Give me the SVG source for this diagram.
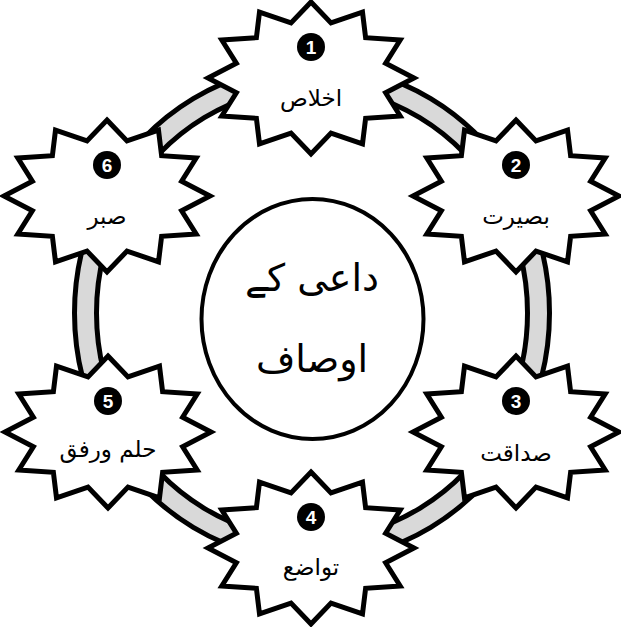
<svg xmlns="http://www.w3.org/2000/svg" xmlns:xlink="http://www.w3.org/1999/xlink" width="621" height="627" viewBox="0 0 621 627">
<style>
.band{fill:#d9d9d9;stroke:#000;stroke-width:5;stroke-linejoin:round}
.star{fill:#fff;stroke:#000;stroke-width:5;stroke-linejoin:miter;stroke-miterlimit:10}
.num{fill:#000}
.numt{fill:#fff;font-family:"Liberation Sans","DejaVu Sans",sans-serif;font-weight:bold;font-size:19px;text-anchor:middle}
.lbl{fill:#000;font-family:"DejaVu Sans","Noto Sans",sans-serif;font-size:23px;text-anchor:middle}
.ctr{fill:#000;font-family:"DejaVu Sans","Noto Sans",sans-serif;font-size:38px;text-anchor:middle}
</style>
<defs>
<path id="star" d="M0,-76 L19.99,-55.06 L51.5,-65.82 L54.62,-40.3 L89.2,-38 L74.62,-14.75 L103,0 L74.62,14.75 L89.2,38 L54.62,40.3 L51.5,65.82 L19.99,55.06 L0,76 L-19.99,55.06 L-51.5,65.82 L-54.62,40.3 L-89.2,38 L-74.62,14.75 L-103,0 L-74.62,-14.75 L-89.2,-38 L-54.62,-40.3 L-51.5,-65.82 L-19.99,-55.06 Z"/>
</defs>
<rect width="621" height="627" fill="#fff"/>
<g id="connectors">
<path class="band" d="M312,65.5 A237.5,247.5 0 0 1 517.68,189.25 L498.63,200.25 A215.5,225.5 0 0 0 312,87.5 Z"/>
<path class="band" d="M517.68,189.25 A237.5,247.5 0 0 1 517.68,436.75 L498.63,425.75 A215.5,225.5 0 0 0 498.63,200.25 Z"/>
<path class="band" d="M517.68,436.75 A237.5,247.5 0 0 1 312,560.5 L312,538.5 A215.5,225.5 0 0 0 498.63,425.75 Z"/>
<path class="band" d="M312,560.5 A237.5,247.5 0 0 1 106.32,436.75 L125.37,425.75 A215.5,225.5 0 0 0 312,538.5 Z"/>
<path class="band" d="M106.32,436.75 A237.5,247.5 0 0 1 106.32,189.25 L125.37,200.25 A215.5,225.5 0 0 0 125.37,425.75 Z"/>
<path class="band" d="M106.32,189.25 A237.5,247.5 0 0 1 312,65.5 L312,87.5 A215.5,225.5 0 0 0 125.37,200.25 Z"/>
</g>
<g id="center">
<ellipse cx="312.5" cy="319" rx="111" ry="120" fill="#fff" stroke="#000" stroke-width="4"/>
<text class="ctr" x="312" y="291">داعی کے</text>
<text class="ctr" x="312" y="372">اوصاف</text>
</g>
<g id="node1" transform="translate(311,78)">
<use xlink:href="#star" class="star"/>
<circle class="num" cx="0" cy="-31" r="14"/>
<text class="numt" x="0" y="-24">1</text>
<text class="lbl" x="0" y="28">اخلاص</text>
</g>
<g id="node2" transform="translate(516,196)">
<use xlink:href="#star" class="star"/>
<circle class="num" cx="0" cy="-31" r="14"/>
<text class="numt" x="0" y="-24">2</text>
<text class="lbl" x="0" y="28">بصیرت</text>
</g>
<g id="node3" transform="translate(516,432)">
<use xlink:href="#star" class="star"/>
<circle class="num" cx="0" cy="-31" r="14"/>
<text class="numt" x="0" y="-24">3</text>
<text class="lbl" x="0" y="29">صداقت</text>
</g>
<g id="node4" transform="translate(311,548)">
<use xlink:href="#star" class="star"/>
<circle class="num" cx="0" cy="-31" r="14"/>
<text class="numt" x="0" y="-24">4</text>
<text class="lbl" x="0" y="27">تواضع</text>
</g>
<g id="node5" transform="translate(108,432)">
<use xlink:href="#star" class="star"/>
<circle class="num" cx="0" cy="-31" r="14"/>
<text class="numt" x="0" y="-24">5</text>
<text class="lbl" x="0" y="25">حلم ورفق</text>
</g>
<g id="node6" transform="translate(107,196)">
<use xlink:href="#star" class="star"/>
<circle class="num" cx="0" cy="-31" r="14"/>
<text class="numt" x="0" y="-24">6</text>
<text class="lbl" x="0" y="28">صبر</text>
</g>
</svg>
